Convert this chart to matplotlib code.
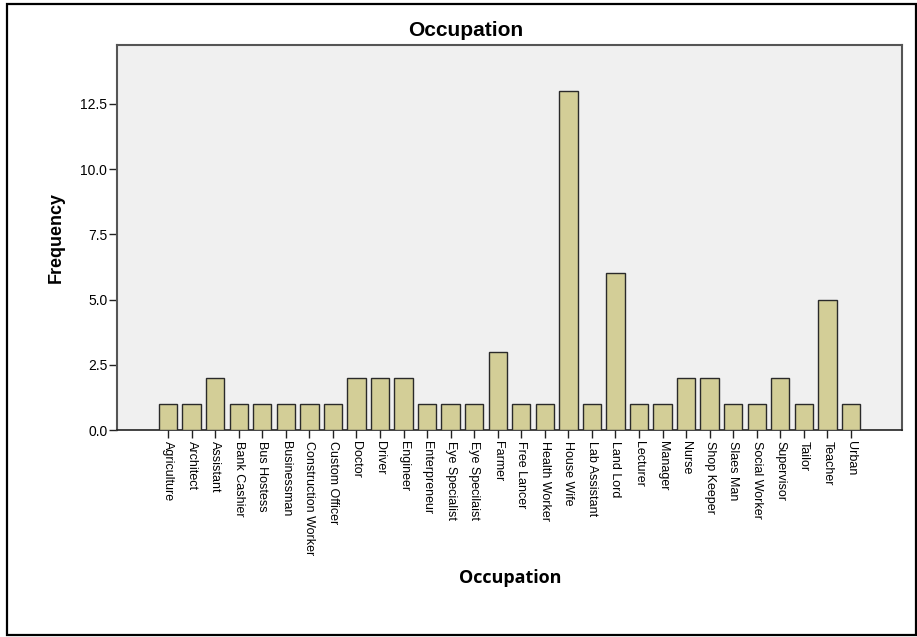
import matplotlib
matplotlib.use("Agg")
import matplotlib.pyplot as plt
from matplotlib.patches import Rectangle

categories = ["Agriculture", "Architect", "Assistant", "Bank Cashier", "Bus Hostess",
              "Businessman", "Construction Worker", "Custom Officer", "Doctor", "Driver",
              "Engineer", "Enterpreneur", "Eye Specialist", "Eye Specilaist", "Farmer",
              "Free Lancer", "Health Worker", "House Wife", "Lab Assistant", "Land Lord",
              "Lecturer", "Manager", "Nurse", "Shop Keeper", "Slaes Man", "Social Worker",
              "Supervisor", "Tailor", "Teacher", "Urban"]
frequency = [1, 1, 2, 1, 1, 1, 1, 1, 2, 2, 2, 1, 1, 1, 3, 1, 1, 13, 1, 6, 1, 1, 2, 2, 1, 1, 2, 1, 5, 1]
yticks = [0.0, 2.5, 5.0, 7.5, 10.0, 12.5]

plt.rcParams['font.family'] = ['Liberation Sans', 'DejaVu Sans']

W, H = 917, 637
fig = plt.figure(figsize=(W / 100, H / 100), dpi=100)
fig.patch.set_facecolor('white')

ax = fig.add_axes([117 / W, (H - 430) / H, (902 - 117) / W, (430 - 45) / H])
ax.set_facecolor('#F0F0F0')
x = list(range(len(categories)))
ax.bar(x, frequency, width=0.78, color='#D3CE97', edgecolor='#2A2A2A', linewidth=1.0, zorder=3)
ax.set_xlim(-2.17, 31.17)
ax.set_ylim(0, 14.76)
ax.set_xticks(x)
ax.set_xticklabels(categories, rotation=270, fontsize=9, va='top', ha='center')
ax.set_yticks(yticks)
ax.set_yticklabels([f"{v:.1f}" for v in yticks], fontsize=10)
ax.tick_params(axis='x', length=6, width=1, color='#222222', pad=2)
ax.tick_params(axis='y', length=6, width=1, color='#222222', pad=1)
for s in ['left', 'top', 'right']:
    ax.spines[s].set_color('#555555')
    ax.spines[s].set_linewidth(1.5)
ax.spines['bottom'].set_color('#222222')
ax.spines['bottom'].set_linewidth(1.2)

fig.text(466 / W, 1 - 30 / H, "Occupation", fontsize=15, fontweight='bold',
         ha='center', va='center')
ax.set_ylabel("Frequency", fontsize=13, fontweight='bold', labelpad=11)
fig.text(510 / W, 1 - 578 / H, "Occupation", fontsize=13, fontweight='bold',
         ha='center', va='center', family=['Open Sans', 'DejaVu Sans'])

fig.add_artist(Rectangle((7 / W, 1 - 635 / H), (916 - 7) / W, (635 - 4) / H,
                         transform=fig.transFigure, fill=False, edgecolor='black', linewidth=1.6))

fig.savefig("out.png", dpi=100)
